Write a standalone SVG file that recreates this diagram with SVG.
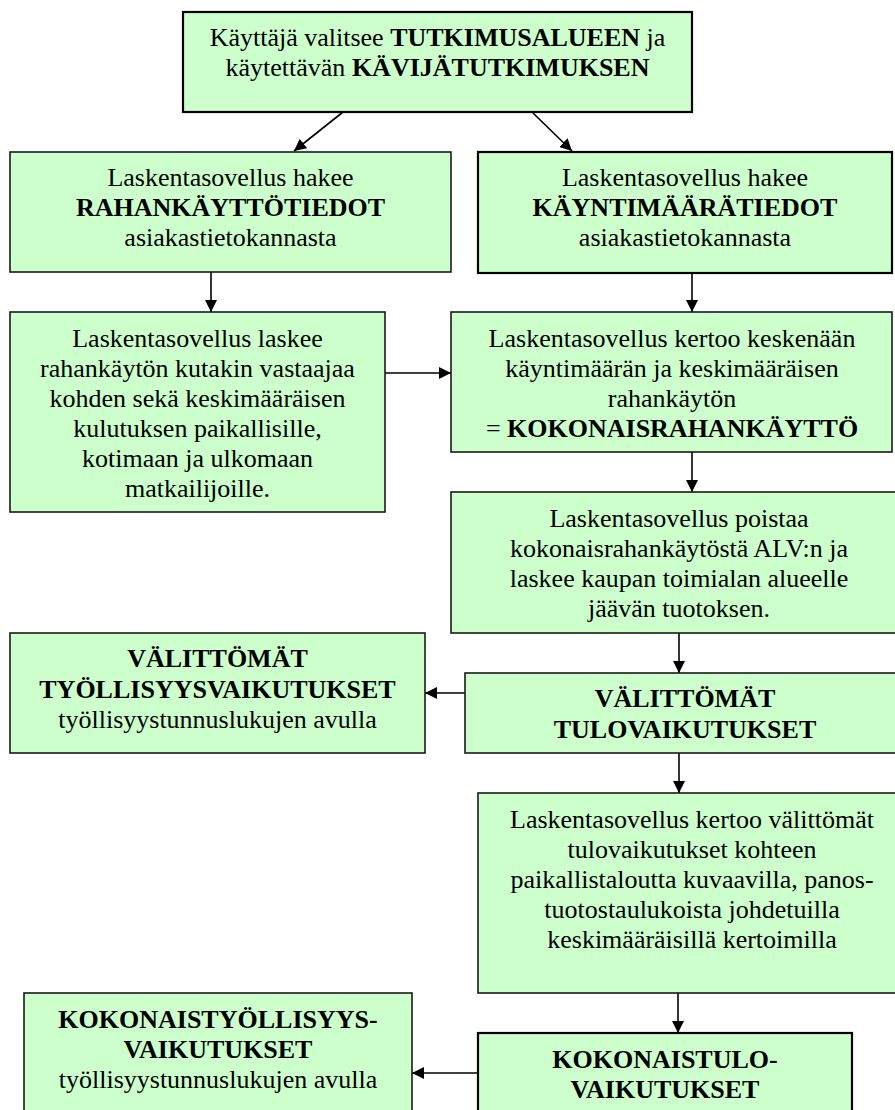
<svg xmlns="http://www.w3.org/2000/svg" width="895" height="1110" viewBox="0 0 895 1110">
<style>
.box{fill:#CCFFCC;stroke:#1a1a1a;stroke-width:1.6}
.thick{stroke:#000;stroke-width:2.2}
text{font-size:26px;fill:#000;text-anchor:middle}
.b{font-weight:bold}
.conn{stroke:#000;stroke-width:1.6;fill:none;marker-end:url(#ah)}
</style>
<defs>
<marker id="ah" markerUnits="userSpaceOnUse" markerWidth="12" markerHeight="12" refX="12" refY="6" orient="auto">
<path d="M0,0 L12,6 L0,12 z" fill="#000"/>
</marker>
</defs>
<rect width="895" height="1110" fill="#fff"/>
<g id="connectors">
<line class="conn" x1="343" y1="112" x2="294" y2="151"/>
<line class="conn" x1="532" y1="112" x2="572" y2="151"/>
<line class="conn" x1="211" y1="272" x2="211" y2="312"/>
<line class="conn" x1="692" y1="273" x2="692" y2="312"/>
<line class="conn" x1="385" y1="373" x2="451" y2="373"/>
<line class="conn" x1="692" y1="452" x2="692" y2="492"/>
<line class="conn" x1="679" y1="633" x2="679" y2="673"/>
<line class="conn" x1="465" y1="693" x2="425" y2="693"/>
<line class="conn" x1="679" y1="753" x2="679" y2="793"/>
<line class="conn" x1="678" y1="993" x2="678" y2="1033"/>
<line class="conn" x1="478" y1="1073" x2="412" y2="1073"/>
</g>
<g font-family="'Liberation Serif', 'Times New Roman', 'DejaVu Serif', serif">
<g id="n1">
<rect class="box thick" x="183" y="12" width="509" height="100"/>
<text x="437.5" y="46">Käyttäjä valitsee <tspan class="b">TUTKIMUSALUEEN</tspan> ja</text>
<text x="437.5" y="76">käytettävän <tspan class="b">KÄVIJÄTUTKIMUKSEN</tspan></text>
</g>
<g id="n2">
<rect class="box" x="10" y="152" width="441" height="120"/>
<text x="230.5" y="186">Laskentasovellus hakee</text>
<text x="230.5" y="216" class="b">RAHANKÄYTTÖTIEDOT</text>
<text x="230.5" y="246">asiakastietokannasta</text>
</g>
<g id="n3">
<rect class="box thick" x="478" y="152" width="414" height="121"/>
<text x="685" y="186">Laskentasovellus hakee</text>
<text x="685" y="216" class="b">KÄYNTIMÄÄRÄTIEDOT</text>
<text x="685" y="246">asiakastietokannasta</text>
</g>
<g id="n4">
<rect class="box" x="10" y="312" width="375" height="200"/>
<text x="197.5" y="347">Laskentasovellus laskee</text>
<text x="197.5" y="377">rahankäytön kutakin vastaajaa</text>
<text x="197.5" y="407">kohden sekä keskimääräisen</text>
<text x="197.5" y="437">kulutuksen paikallisille,</text>
<text x="197.5" y="467">kotimaan ja ulkomaan</text>
<text x="197.5" y="497">matkailijoille.</text>
</g>
<g id="n5">
<rect class="box" x="451" y="312" width="441" height="140"/>
<text x="672" y="347">Laskentasovellus kertoo keskenään</text>
<text x="672" y="377">käyntimäärän ja keskimääräisen</text>
<text x="672" y="407">rahankäytön</text>
<text x="672" y="437">= <tspan class="b">KOKONAISRAHANKÄYTTÖ</tspan></text>
</g>
<g id="n6">
<rect class="box" x="451" y="492" width="456" height="141"/>
<text x="679" y="527">Laskentasovellus poistaa</text>
<text x="679" y="557">kokonaisrahankäytöstä ALV:n ja</text>
<text x="679" y="587">laskee kaupan toimialan alueelle</text>
<text x="679" y="617">jäävän tuotoksen.</text>
</g>
<g id="n7">
<rect class="box" x="10" y="633" width="415" height="120"/>
<text x="217.5" y="667" class="b">VÄLITTÖMÄT</text>
<text x="217.5" y="698" class="b">TYÖLLISYYSVAIKUTUKSET</text>
<text x="217.5" y="728">työllisyystunnuslukujen avulla</text>
</g>
<g id="n8">
<rect class="box" x="465" y="673" width="441" height="80"/>
<text x="685" y="707" class="b">VÄLITTÖMÄT</text>
<text x="685" y="738" class="b">TULOVAIKUTUKSET</text>
</g>
<g id="n9">
<rect class="box" x="478" y="793" width="428" height="200"/>
<text x="692" y="828">Laskentasovellus kertoo välittömät</text>
<text x="692" y="858">tulovaikutukset kohteen</text>
<text x="692" y="888">paikallistaloutta kuvaavilla, panos-</text>
<text x="692" y="918">tuotostaulukoista johdetuilla</text>
<text x="692" y="948">keskimääräisillä kertoimilla</text>
</g>
<g id="n10">
<rect class="box" x="24" y="993" width="388" height="130"/>
<text x="218" y="1028" class="b">KOKONAISTYÖLLISYYS-</text>
<text x="218" y="1058" class="b">VAIKUTUKSET</text>
<text x="218" y="1088">työllisyystunnuslukujen avulla</text>
</g>
<g id="n11">
<rect class="box thick" x="478" y="1033" width="374" height="90"/>
<text x="665" y="1068" class="b">KOKONAISTULO-</text>
<text x="665" y="1098" class="b">VAIKUTUKSET</text>
</g>
</g>
</svg>
